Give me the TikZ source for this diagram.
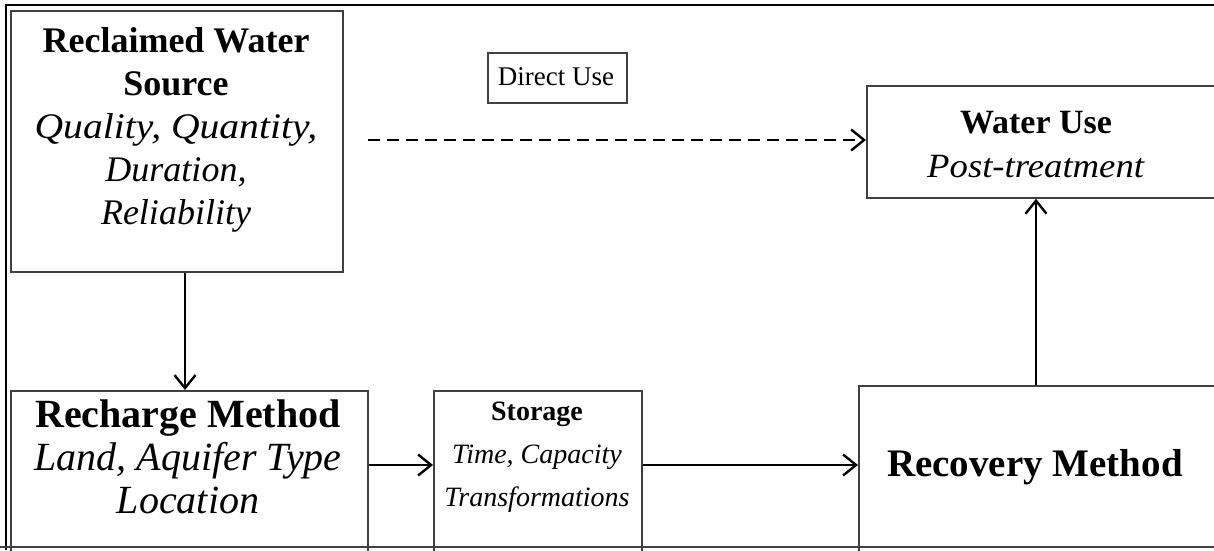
\documentclass[tikz,border=0pt]{standalone}
\usepackage{fontspec}
\setmainfont{Liberation Serif}
\usetikzlibrary{arrows.meta}
\begin{document}
\begin{tikzpicture}[x=1pt,y=-1pt,
  box/.style={draw=black!75, line width=1.8pt, anchor=north west, inner sep=0pt},
  txt/.style={align=center, inner sep=0pt, font=\fontsize{38}{43}\selectfont},
  arr/.style={line width=2.4pt, -{Straight Barb[length=13pt,width=21pt,line width=2.4pt]}},
  frame/.style={line width=2.4pt, black}]
\useasboundingbox (0,0) rectangle (1214,550);
\clip (0,0) rectangle (1214,550);
% outer frame
\draw[frame] (6,550) -- (6,5) -- (1214,5);
% boxes
\node[box, minimum width=332pt, minimum height=261pt] (rs) at (10,10) {};
\node[box, minimum width=139pt, minimum height=50pt] (du) at (487,52) {};
\node[box, minimum width=400pt, minimum height=112pt] (wu) at (866,85) {};
\node[box, minimum width=357pt, minimum height=162pt] (rm) at (10,390) {};
\node[box, minimum width=208pt, minimum height=162pt] (st) at (433,390) {};
\node[box, minimum width=400pt, minimum height=167pt] (rv) at (858,385) {};
\draw[black!75, line width=1.8pt] (0,547) -- (1214,547);
% texts
\node[txt, font=\fontsize{36}{43}\selectfont] (rst) at (176,130) {\textbf{Reclaimed Water}\\ \textbf{Source}\\ \scalebox{1.1}[1]{\textit{Quality, Quantity,}}\\ \textit{Duration,}\\ \textit{Reliability}};
\node[txt, font=\fontsize{27}{32}\selectfont] (dut) at (556,77) {Direct Use};
\node[txt, font=\fontsize{34}{44}\selectfont] (wut) at (1036,145) {\textbf{Water Use}\\ \scalebox{1.08}[1]{\textit{Post-treatment}}};
\node[txt, font=\fontsize{40}{43}\selectfont] (rmt) at (188,457) {\textbf{Recharge Method}\\ \textit{Land, Aquifer Type}\\ \textit{Location}};
\node[txt, font=\fontsize{28}{43}\selectfont] (stt) at (537,457) {\textbf{Storage}\\ \textit{Time, Capacity}\\ \textit{Transformations}};
\node[txt, font=\fontsize{39}{43}\selectfont] (rvt) at (1035,467) {\textbf{Recovery Method}};
% connectors
\coordinate (rsE) at (368,140);
\coordinate (wuW) at (866,140);
\draw[arr, dash pattern=on 12pt off 7pt] (rsE) -- (wuW);
\draw[arr] (rs.south -| 185,0) -- (rm.north -| 185,0);
\draw[arr] (rm.east |- 0,465) -- (st.west |- 0,465);
\draw[arr] (st.east |- 0,465) -- (rv.west |- 0,465);
\draw[arr] (rv.north -| 1036,0) -- (wu.south -| 1036,0);
\end{tikzpicture}
\end{document}
